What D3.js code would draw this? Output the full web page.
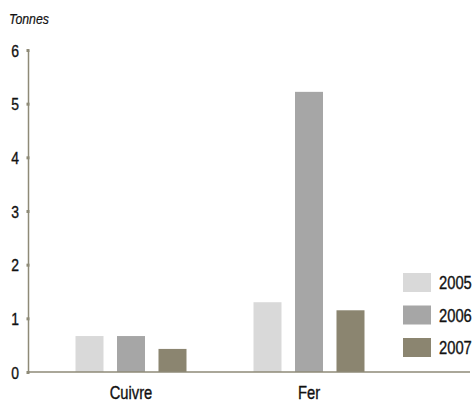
<!DOCTYPE html>
<html><head><meta charset="utf-8">
<script src="https://cdn.jsdelivr.net/npm/d3@7"></script>
<style>
body{margin:0;background:#fff;}
text{font-family:"Liberation Sans","Arial",sans-serif;fill:#111;stroke:#111;stroke-width:0.35px;}
</style></head>
<body><svg id="c" width="474" height="401"></svg>
<script>
const categories = ["Cuivre", "Fer"];
const seriesNames = ["2005", "2006", "2007"];
const values2005 = [0.67, 1.30];
const values2006 = [0.67, 5.22];
const values2007 = [0.43, 1.15];
const yTicks = [0, 1, 2, 3, 4, 5, 6];
const colors = ["#d9d9d9", "#a6a6a6", "#8b8570"];
const unitLabel = "Tonnes";

const series = [values2005, values2006, values2007];
const svg = d3.select("#c");
const axisColor = "#8e8a77";
const SX = 0.82; // horizontal condensing

function ctext(x, y, str, size, anchor, sx) {
  sx = sx || SX;
  return svg.append("text")
    .attr("transform", `translate(${x},${y}) scale(${sx},1)`)
    .attr("text-anchor", anchor || "start")
    .attr("font-size", size)
    .text(str);
}

const y = d3.scaleLinear().domain([0, 6]).range([372, 50]);
const x0 = d3.scaleBand().domain(categories).range([42, 398]).padding(0);
const x1 = d3.scaleBand().domain(seriesNames).range([-55.5, 55.5]).paddingInner(0.325).paddingOuter(0);

// bars
categories.forEach((c, ci) => {
  const cx = x0(c) + x0.bandwidth() / 2;
  seriesNames.forEach((s, si) => {
    svg.append("rect")
      .attr("x", cx + x1(s))
      .attr("y", y(series[si][ci]))
      .attr("width", x1.bandwidth())
      .attr("height", y(0) - y(series[si][ci]))
      .attr("fill", colors[si]);
  });
  ctext(cx, 399, c, 18, "middle");
});

// y axis
const yAxis = d3.axisLeft(y).tickValues(yTicks).tickSize(0).tickPadding(0).tickFormat(d3.format("d"));
const gy = svg.append("g").attr("transform", "translate(28,0)").call(yAxis);
gy.select(".domain").attr("stroke", axisColor).attr("stroke-width", 1.5);
gy.selectAll(".tick text")
  .attr("x", null).attr("dy", null)
  .attr("transform", `translate(-9,6) scale(${SX},1)`)
  .attr("font-size", 17).attr("fill", "#111")
  .style("font-family", '"Liberation Sans",Arial,sans-serif');
gy.selectAll(".tick").append("rect")
  .attr("x", -1.5).attr("y", -1.5).attr("width", 3).attr("height", 3)
  .attr("fill", axisColor);

// x axis line
svg.append("line").attr("x1", 28).attr("x2", 470).attr("y1", 372).attr("y2", 372)
  .attr("stroke", axisColor).attr("stroke-width", 1.5);

// unit label
ctext(9, 24, unitLabel, 14, "start", 0.88).attr("font-style", "italic").style("stroke-width", "0.2px");

// legend
seriesNames.forEach((s, i) => {
  const ly = 273 + i * 32.5;
  svg.append("rect").attr("x", 403).attr("y", ly).attr("width", 28).attr("height", 19)
    .attr("fill", colors[i]);
  ctext(439, ly + 16, s, 18, "start");
});
</script></body></html>
